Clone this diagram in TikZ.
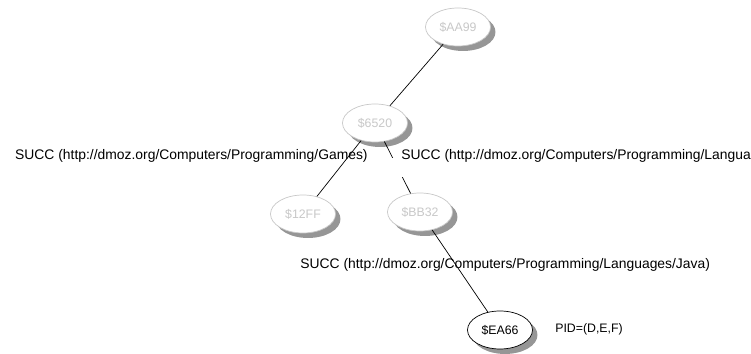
\documentclass[tikz,border=0pt]{standalone}
\usepackage{fontspec}
\setmainfont{Liberation Sans}
\usetikzlibrary{shapes.geometric}
\usetikzlibrary{shadows}
\definecolor{pagegray}{RGB}{200,200,200}
\definecolor{shadegray}{RGB}{150,150,150}

\begin{document}
\begin{tikzpicture}[x=0.02cm,y=-0.02cm,
	page/.style={ellipse,draw=pagegray,fill=white,text=pagegray,minimum width=1.3cm,minimum height=0.76cm,inner sep=0pt,font=\fontsize{7}{8}\selectfont,
		drop shadow={shadow xshift=0.1cm,shadow yshift=-0.1cm,fill=shadegray,opacity=1}},
	succ/.style={font=\fontsize{7.9}{9}\selectfont,inner sep=0pt}]
	\clip (0,0) rectangle (751,354);

	\node[page] (aa99) at (458,27) {\$AA99};
	\node[page] (p6520) at (375,123) {\$6520};
	\node[page] (p12ff) at (303,214) {\$12FF};
	\node[page] (bb32) at (420,212) {\$BB32};
	\node[page,draw=black,text=black] (ea66) at (500,330) {\$EA66};

	% successor labels
	\node[succ,anchor=base east] (games) at (368,160) {SUCC (http://dmoz.org/Computers/Programming/Games)};
	\node[succ,anchor=base west] (java) at (300,269) {SUCC (http://dmoz.org/Computers/Programming/Languages/Java)};

	\draw (aa99) -- (p6520);
	\draw (p6520) -- (p12ff);
	\draw (p6520) -- (bb32);
	\draw (bb32) -- (ea66);

	\node[succ,anchor=base west,fill=white,inner xsep=0.2cm,text height=0.04cm,text depth=0.34cm] (lang) at (391,160) {SUCC (http://dmoz.org/Computers/Programming/Languages)};
	\node[anchor=base west,inner sep=0pt,font=\fontsize{7}{8}\selectfont] (pid) at (555,333) {PID=(D,E,F)};
\end{tikzpicture}
\end{document}
